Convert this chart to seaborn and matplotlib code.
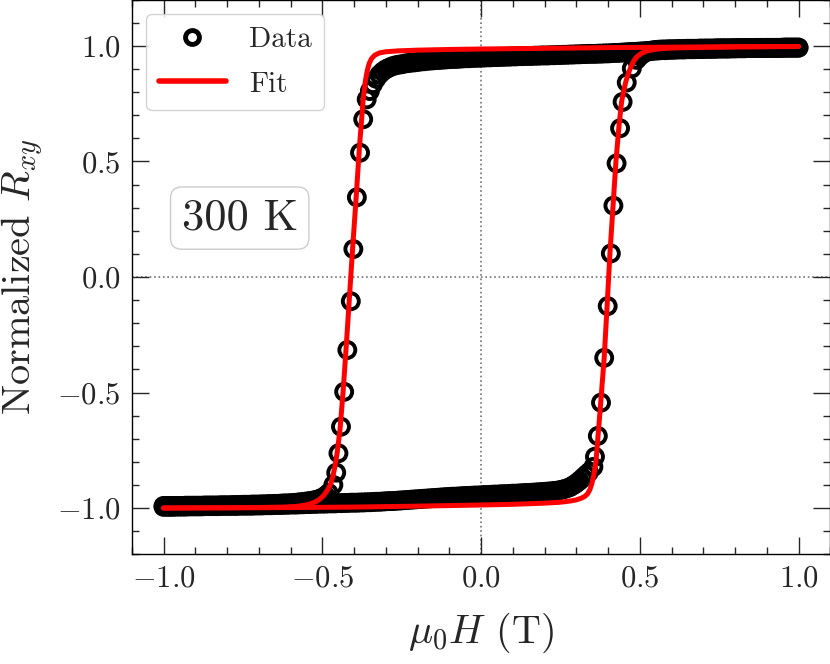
import numpy as np
import pandas as pd
import matplotlib
matplotlib.use("Agg")
import matplotlib.pyplot as plt
from matplotlib.lines import Line2D
from matplotlib.ticker import MultipleLocator
import seaborn as sns

# ---------------- data ----------------
# descending sweep (+1 T -> -1 T)
desc_x = [1.00, 0.99, 0.98, 0.97, 0.96, 0.95, 0.94, 0.93, 0.92, 0.91,
          0.90, 0.89, 0.88, 0.87, 0.86, 0.85, 0.84, 0.83, 0.82, 0.81,
          0.80, 0.79, 0.78, 0.77, 0.76, 0.75, 0.74, 0.73, 0.72, 0.71,
          0.70, 0.69, 0.68, 0.67, 0.66, 0.65, 0.64, 0.63, 0.62, 0.61,
          0.60, 0.59, 0.58, 0.57, 0.56, 0.55, 0.54, 0.53, 0.52, 0.51,
          0.50, 0.49, 0.48, 0.47, 0.46, 0.45, 0.44, 0.43, 0.42, 0.41,
          0.40, 0.39, 0.38, 0.37, 0.36, 0.35, 0.34, 0.33, 0.32, 0.31,
          0.30, 0.29, 0.28, 0.27, 0.26, 0.25, 0.24, 0.23, 0.22, 0.21,
          0.20, 0.19, 0.18, 0.17, 0.16, 0.15, 0.14, 0.13, 0.12, 0.11,
          0.10, 0.09, 0.08, 0.07, 0.06, 0.05, 0.04, 0.03, 0.02, 0.01,
          0.00, -0.01, -0.02, -0.03, -0.04, -0.05, -0.06, -0.07, -0.08, -0.09,
          -0.10, -0.11, -0.12, -0.13, -0.14, -0.15, -0.16, -0.17, -0.18, -0.19,
          -0.20, -0.21, -0.22, -0.23, -0.24, -0.25, -0.26, -0.27, -0.28, -0.29,
          -0.30, -0.31, -0.32, -0.33, -0.34, -0.35,
          -0.360, -0.371, -0.381, -0.391, -0.402, -0.410, -0.421, -0.431, -0.441, -0.449,
          -0.456, -0.465,
          -0.48, -0.49, -0.50, -0.51, -0.52, -0.53, -0.54, -0.55, -0.56, -0.57,
          -0.58, -0.59, -0.60,
          -0.61, -0.62, -0.63, -0.64, -0.65, -0.66, -0.67, -0.68, -0.69, -0.70,
          -0.71, -0.72, -0.73, -0.74, -0.75, -0.76, -0.77, -0.78, -0.79, -0.80,
          -0.81, -0.82, -0.83, -0.84, -0.85, -0.86, -0.87, -0.88, -0.89, -0.90,
          -0.91, -0.92, -0.93, -0.94, -0.95, -0.96, -0.97, -0.98, -0.99, -1.00]
desc_y = [0.993, 0.993, 0.993, 0.993, 0.993, 0.992, 0.992, 0.992, 0.992, 0.992,
          0.992, 0.991, 0.991, 0.991, 0.991, 0.991, 0.991, 0.990, 0.990, 0.990,
          0.990, 0.990, 0.989, 0.989, 0.989, 0.989, 0.988, 0.988, 0.988, 0.988,
          0.987, 0.987, 0.987, 0.986, 0.986, 0.986, 0.985, 0.985, 0.985, 0.984,
          0.984, 0.983, 0.982, 0.982, 0.981, 0.980, 0.979, 0.979, 0.978, 0.977,
          0.976, 0.975, 0.974, 0.974, 0.973, 0.972, 0.971, 0.970, 0.970, 0.969,
          0.968, 0.968, 0.967, 0.967, 0.966, 0.966, 0.966, 0.965, 0.965, 0.964,
          0.964, 0.963, 0.963, 0.962, 0.962, 0.961, 0.961, 0.960, 0.960, 0.959,
          0.959, 0.959, 0.958, 0.958, 0.957, 0.957, 0.957, 0.956, 0.956, 0.955,
          0.955, 0.954, 0.954, 0.953, 0.953, 0.952, 0.952, 0.951, 0.951, 0.950,
          0.950, 0.949, 0.949, 0.948, 0.947, 0.947, 0.946, 0.945, 0.944, 0.944,
          0.943, 0.942, 0.941, 0.940, 0.939, 0.938, 0.937, 0.936, 0.934, 0.933,
          0.931, 0.929, 0.928, 0.926, 0.924, 0.921, 0.919, 0.916, 0.912, 0.906,
          0.899, 0.889, 0.876, 0.858, 0.835, 0.805,
          0.769, 0.683, 0.538, 0.345, 0.121, -0.105, -0.316, -0.497, -0.648, -0.763,
          -0.847, -0.900,
          -0.935, -0.947, -0.955, -0.961, -0.965, -0.968, -0.970, -0.972, -0.974, -0.975,
          -0.977, -0.978, -0.979,
          -0.980, -0.980, -0.981, -0.982, -0.982, -0.983, -0.983, -0.984, -0.984, -0.985,
          -0.985, -0.985, -0.986, -0.986, -0.986, -0.987, -0.987, -0.987, -0.988, -0.988,
          -0.988, -0.988, -0.989, -0.989, -0.989, -0.989, -0.989, -0.990, -0.990, -0.990,
          -0.990, -0.990, -0.990, -0.991, -0.991, -0.991, -0.991, -0.991, -0.991, -0.991]

# ascending sweep (-1 T -> +1 T)
asc_x = [-1.00, -0.99, -0.98, -0.97, -0.96, -0.95, -0.94, -0.93, -0.92, -0.91,
         -0.90, -0.89, -0.88, -0.87, -0.86, -0.85, -0.84, -0.83, -0.82, -0.81,
         -0.80, -0.79, -0.78, -0.77, -0.76, -0.75, -0.74, -0.73, -0.72, -0.71,
         -0.70, -0.69, -0.68, -0.67, -0.66, -0.65, -0.64, -0.63, -0.62, -0.61,
         -0.60, -0.59, -0.58, -0.57, -0.56, -0.55, -0.54, -0.53, -0.52, -0.51,
         -0.50, -0.49, -0.48, -0.47, -0.46, -0.45, -0.44, -0.43, -0.42, -0.41,
         -0.40, -0.39, -0.38, -0.37, -0.36, -0.35, -0.34, -0.33, -0.32, -0.31,
         -0.30, -0.29, -0.28, -0.27, -0.26, -0.25, -0.24, -0.23, -0.22, -0.21,
         -0.20, -0.19, -0.18, -0.17, -0.16, -0.15, -0.14, -0.13, -0.12, -0.11,
         -0.10, -0.09, -0.08, -0.07, -0.06, -0.05, -0.04, -0.03, -0.02, -0.01,
         0.00, 0.01, 0.02, 0.03, 0.04, 0.05, 0.06, 0.07, 0.08, 0.09,
         0.10, 0.11, 0.12, 0.13, 0.14, 0.15, 0.16, 0.17, 0.18, 0.19,
         0.20, 0.21, 0.22, 0.23, 0.24, 0.25, 0.26, 0.27, 0.28, 0.29,
         0.30, 0.31, 0.32, 0.33, 0.34,
         0.354, 0.359, 0.368, 0.378, 0.388, 0.399, 0.409, 0.417, 0.427, 0.438,
         0.446, 0.459, 0.475,
         0.49, 0.50, 0.51, 0.52, 0.53, 0.54, 0.55, 0.56, 0.57, 0.58, 0.59,
         0.60, 0.61, 0.62, 0.63, 0.64, 0.65, 0.66, 0.67, 0.68, 0.69,
         0.70, 0.71, 0.72, 0.73, 0.74, 0.75, 0.76, 0.77, 0.78, 0.79,
         0.80, 0.81, 0.82, 0.83, 0.84, 0.85, 0.86, 0.87, 0.88, 0.89,
         0.90, 0.91, 0.92, 0.93, 0.94, 0.95, 0.96, 0.97, 0.98, 0.99, 1.00]
asc_y = [-0.995, -0.995, -0.995, -0.995, -0.994, -0.994, -0.994, -0.994, -0.993, -0.993,
         -0.993, -0.993, -0.993, -0.992, -0.992, -0.992, -0.992, -0.992, -0.991, -0.991,
         -0.991, -0.991, -0.991, -0.991, -0.990, -0.990, -0.990, -0.990, -0.990, -0.989,
         -0.989, -0.989, -0.988, -0.988, -0.988, -0.987, -0.987, -0.987, -0.986, -0.986,
         -0.985, -0.985, -0.985, -0.984, -0.984, -0.983, -0.983, -0.982, -0.982, -0.981,
         -0.981, -0.981, -0.980, -0.980, -0.980, -0.979, -0.979, -0.978, -0.978, -0.977,
         -0.977, -0.977, -0.976, -0.976, -0.975, -0.975, -0.974, -0.973, -0.973, -0.972,
         -0.971, -0.970, -0.970, -0.969, -0.968, -0.967, -0.966, -0.965, -0.964, -0.963,
         -0.962, -0.961, -0.960, -0.959, -0.958, -0.957, -0.956, -0.955, -0.954, -0.953,
         -0.952, -0.951, -0.951, -0.950, -0.949, -0.948, -0.948, -0.947, -0.946, -0.946,
         -0.945, -0.944, -0.944, -0.943, -0.942, -0.942, -0.941, -0.940, -0.940, -0.939,
         -0.938, -0.938, -0.937, -0.936, -0.935, -0.935, -0.934, -0.933, -0.932, -0.931,
         -0.930, -0.929, -0.928, -0.926, -0.925, -0.922, -0.919, -0.915, -0.910, -0.902,
         -0.893, -0.882, -0.870, -0.857, -0.845,
         -0.822, -0.778, -0.688, -0.544, -0.350, -0.126, 0.102, 0.309, 0.492, 0.644,
         0.758, 0.842, 0.903,
         0.940, 0.955, 0.966, 0.973, 0.978, 0.981, 0.983, 0.984, 0.985, 0.985, 0.986,
         0.986, 0.986, 0.987, 0.987, 0.987, 0.988, 0.988, 0.988, 0.988, 0.989,
         0.989, 0.989, 0.989, 0.989, 0.990, 0.990, 0.990, 0.990, 0.990, 0.990,
         0.990, 0.991, 0.991, 0.991, 0.991, 0.991, 0.991, 0.992, 0.992, 0.992,
         0.992, 0.992, 0.992, 0.992, 0.992, 0.993, 0.993, 0.993, 0.993, 0.993, 0.993]

fit_desc_x = [1.00, 0.80, 0.60, 0.40, 0.20, 0.00, -0.10, -0.20, -0.26, -0.30,
              -0.32, -0.335, -0.345, -0.352, -0.358, -0.364, -0.371, -0.383, -0.393, -0.404,
              -0.414, -0.424, -0.434, -0.444, -0.453, -0.460, -0.466, -0.472, -0.479, -0.487,
              -0.497, -0.508, -0.520, -0.535, -0.555, -0.58, -0.62, -0.70, -0.80, -1.00]
fit_desc_y = [0.998, 0.997, 0.995, 0.993, 0.990, 0.987, 0.985, 0.982, 0.979, 0.975,
              0.970, 0.960, 0.945, 0.925, 0.895, 0.850, 0.770, 0.560, 0.350, 0.130,
              -0.080, -0.290, -0.490, -0.660, -0.760, -0.820, -0.860, -0.890, -0.912, -0.930,
              -0.948, -0.962, -0.972, -0.981, -0.988, -0.993, -0.996, -0.998, -0.999, -1.000]

fit_asc_x = [-1.00, -0.80, -0.60, -0.40, -0.20, 0.00, 0.10, 0.20, 0.25, 0.28,
             0.30, 0.315, 0.327, 0.336, 0.343, 0.349, 0.355, 0.362, 0.375, 0.388,
             0.397, 0.406, 0.416, 0.425, 0.435, 0.443, 0.450, 0.457, 0.464, 0.472,
             0.481, 0.492, 0.505, 0.520, 0.540, 0.57, 0.62, 0.70, 0.80, 1.00]
fit_asc_y = [-1.000, -0.999, -0.998, -0.996, -0.992, -0.987, -0.984, -0.979, -0.975, -0.970,
             -0.965, -0.958, -0.950, -0.938, -0.920, -0.895, -0.860, -0.800, -0.580, -0.350,
             -0.130, 0.100, 0.310, 0.500, 0.660, 0.760, 0.810, 0.850, 0.880, 0.910,
             0.935, 0.955, 0.968, 0.977, 0.984, 0.989, 0.992, 0.994, 0.996, 0.998]

x_ticks = [-1.0, -0.5, 0.0, 0.5, 1.0]
y_ticks = [-1.0, -0.5, 0.0, 0.5, 1.0]
temp_label = "300 K"
legend_labels = ["Data", "Fit"]

# ---------------- style ----------------
sns.set_style("ticks")
plt.rcParams.update({
    "font.family": "serif",
    "font.serif": ["cmr10"],
    "mathtext.fontset": "cm",
    "axes.formatter.use_mathtext": True,
    "axes.unicode_minus": True,
    "axes.linewidth": 1.0,
    "axes.edgecolor": "black",
})

fig = plt.figure(figsize=(8.3, 6.64), dpi=100)
ax = fig.add_axes([131.75 / 830, 109.8 / 664, 698.5 / 830, 554.4 / 664])

data = pd.DataFrame({"H": desc_x + asc_x, "R": desc_y + asc_y})
fit_d = pd.DataFrame({"H": fit_desc_x, "R": fit_desc_y})
fit_a = pd.DataFrame({"H": fit_asc_x, "R": fit_asc_y})

ax.axhline(0, color="0.45", ls=":", lw=1.2, zorder=0)
ax.axvline(0, color="0.45", ls=":", lw=1.2, zorder=0)

sns.scatterplot(data=data, x="H", y="R", ax=ax, marker="o", s=11.5 ** 2,
                facecolors="none", edgecolor="black", linewidth=2.8, zorder=2,
                legend=False)
sns.lineplot(data=fit_d, x="H", y="R", ax=ax, sort=False, estimator=None,
             color="#ff0000", lw=3.6, zorder=3, legend=False)
sns.lineplot(data=fit_a, x="H", y="R", ax=ax, sort=False, estimator=None,
             color="#ff0000", lw=3.6, zorder=3, legend=False)

ax.set_xlim(-1.1, 1.1)
ax.set_ylim(-1.2, 1.2)
ax.set_xticks(x_ticks)
ax.set_yticks(y_ticks)
ax.xaxis.set_minor_locator(MultipleLocator(0.1))
ax.yaxis.set_minor_locator(MultipleLocator(0.1))
ax.tick_params(which="both", direction="in", top=True, right=True, width=1.0)
ax.tick_params(which="major", length=12, labelsize=22, pad=8)
ax.tick_params(which="minor", length=5)
for s in ax.spines.values():
    s.set_visible(True)

ax.set_xlabel(r"$\mu_0 H$ (T)", fontsize=29, labelpad=13)
ax.set_ylabel(r"Normalized $R_{xy}$", fontsize=29, labelpad=8)

handles = [
    Line2D([], [], marker="o", ls="none", mfc="none", mec="black", ms=10, mew=3.5),
    Line2D([], [], color="#ff0000", lw=4),
]
ax.legend(handles, legend_labels, loc="upper left", fontsize=21,
          handlelength=2.3, handletextpad=0.8, labelspacing=0.62,
          borderpad=0.42, borderaxespad=0.5, framealpha=0.85,
          edgecolor="0.8", fancybox=True)

ax.text(-0.76, 0.255, temp_label, fontsize=32, ha="center", va="center",
        bbox=dict(boxstyle="round,pad=0.25", fc="white", ec="0.8", lw=1.0))

fig.savefig("out.png", dpi=100)
